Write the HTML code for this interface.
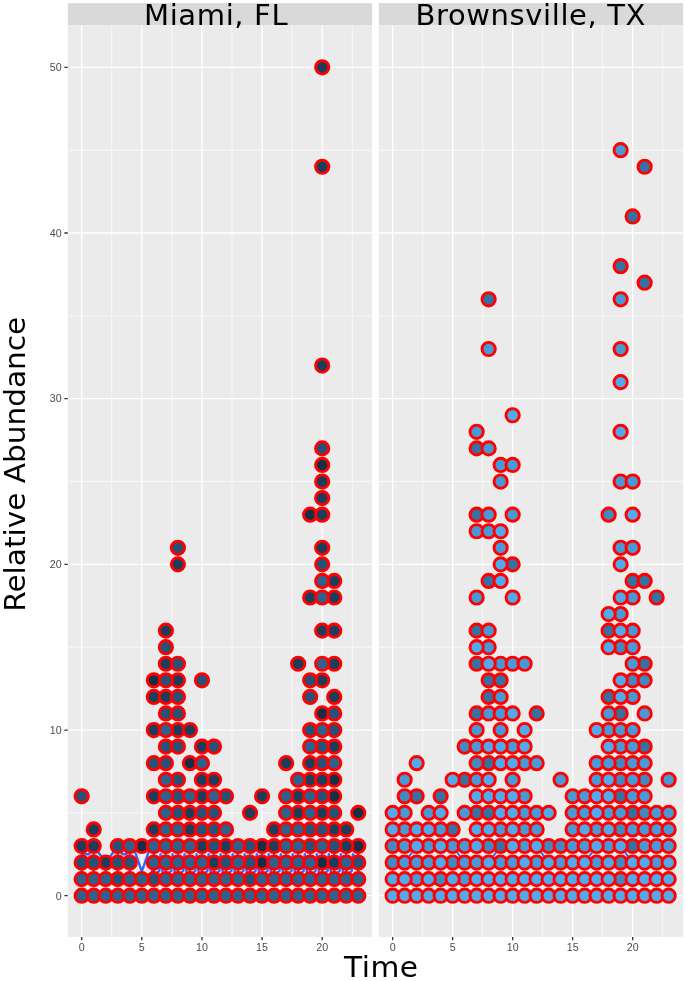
<!DOCTYPE html>
<html lang="en">
<head>
<meta charset="utf-8">
<title>Relative Abundance over Time</title>
<style>
html,body{margin:0;padding:0;background:#FFFFFF;}
body{width:685px;height:981px;overflow:hidden;}
svg{display:block;}
</style>
</head>
<body>
<svg width="685" height="981" viewBox="0 0 685 981">
<rect width="685" height="981" fill="#FFFFFF"/>
<rect x="67.8" y="3.1" width="304.30" height="22.30" fill="#D9D9D9"/>
<rect x="67.8" y="25.4" width="304.30" height="911.50" fill="#EBEBEB"/>
<path d="M67.8 812.87H372.1M67.8 647.20H372.1M67.8 481.53H372.1M67.8 315.86H372.1M67.8 150.19H372.1M111.76 25.4V936.9M171.89 25.4V936.9M232.01 25.4V936.9M292.14 25.4V936.9M352.26 25.4V936.9" stroke="#FFFFFF" stroke-width="0.65" fill="none"/>
<path d="M67.8 895.70H372.1M67.8 730.03H372.1M67.8 564.36H372.1M67.8 398.69H372.1M67.8 233.02H372.1M67.8 67.35H372.1M81.70 25.4V936.9M141.82 25.4V936.9M201.95 25.4V936.9M262.07 25.4V936.9M322.20 25.4V936.9" stroke="#FFFFFF" stroke-width="1.3" fill="none"/>
<path d="M81.7 854.3 L88.9 854.3 L93.7 846.0 L105.8 862.6 L117.8 846.0 L122.6 854.3 L126.2 854.3 L133.2 846.3 L141.8 871.7 L150.5 846.3 L153.9 852.6 L151.4 879.1 L159.3 870.8 L160.5 854.3 L163.5 879.1 L171.3 870.8 L172.5 854.3 L175.5 879.1 L183.3 870.8 L184.5 854.3 L187.5 879.1 L195.3 870.8 L196.5 854.3 L199.5 879.1 L207.4 870.8 L208.6 854.3 L211.6 879.1 L219.4 870.8 L220.6 854.3 L223.6 879.1 L231.4 870.8 L232.6 854.3 L235.6 879.1 L243.4 870.8 L244.6 854.3 L247.6 879.1 L255.5 870.8 L256.7 854.3 L259.7 879.1 L267.5 870.8 L268.7 854.3 L271.7 879.1 L279.5 870.8 L280.7 854.3 L283.7 879.1 L291.5 870.8 L292.7 854.3 L295.7 879.1 L303.6 870.8 L304.8 854.3 L307.8 879.1 L315.6 870.8 L316.8 854.3 L319.8 879.1 L327.6 870.8 L328.8 854.3 L331.8 879.1 L339.6 870.8 L340.8 854.3 L343.8 879.1 L351.7 870.8 L352.9 854.3 L358.3 862.6M81.7 879.1V847.7M93.7 879.1V847.7M105.8 879.1V862.6M117.8 879.1V847.7M129.8 879.1V847.7M153.9 879.1V847.7M165.9 879.1V847.7M177.9 879.1V847.7M189.9 879.1V847.7M201.9 879.1V847.7M214.0 879.1V847.7M226.0 879.1V847.7M238.0 879.1V847.7M250.1 879.1V847.7M262.1 879.1V847.7M274.1 879.1V847.7M286.1 879.1V847.7M298.2 879.1V847.7M310.2 879.1V847.7M322.2 879.1V847.7M334.2 879.1V847.7M346.2 879.1V847.7M358.3 879.1V847.7" stroke="#3366FF" stroke-width="2.4" fill="none" stroke-linejoin="round"/>
<g stroke="#FF0000" stroke-width="2.9">
<circle cx="262.07" cy="862.57" r="6.65" fill="#152F48"/>
<circle cx="322.20" cy="862.57" r="6.65" fill="#152F48"/>
<circle cx="141.82" cy="846.00" r="6.65" fill="#152F48"/>
<circle cx="262.07" cy="846.00" r="6.65" fill="#152F48"/>
<circle cx="358.27" cy="846.00" r="6.65" fill="#152F48"/>
<circle cx="358.27" cy="812.87" r="6.65" fill="#152F48"/>
<circle cx="334.23" cy="796.30" r="6.65" fill="#152F48"/>
<circle cx="334.23" cy="779.73" r="6.65" fill="#152F48"/>
<circle cx="189.93" cy="763.16" r="6.65" fill="#152F48"/>
<circle cx="322.20" cy="713.46" r="6.65" fill="#152F48"/>
<circle cx="153.85" cy="680.33" r="6.65" fill="#152F48"/>
<circle cx="310.18" cy="514.66" r="6.65" fill="#152F48"/>
<circle cx="322.20" cy="464.96" r="6.65" fill="#152F48"/>
<circle cx="105.75" cy="862.57" r="6.65" fill="#1C3E5C"/>
<circle cx="213.98" cy="862.57" r="6.65" fill="#1C3E5C"/>
<circle cx="334.23" cy="862.57" r="6.65" fill="#1C3E5C"/>
<circle cx="81.70" cy="846.00" r="6.65" fill="#1C3E5C"/>
<circle cx="93.73" cy="846.00" r="6.65" fill="#1C3E5C"/>
<circle cx="201.95" cy="846.00" r="6.65" fill="#1C3E5C"/>
<circle cx="226.00" cy="846.00" r="6.65" fill="#1C3E5C"/>
<circle cx="274.10" cy="846.00" r="6.65" fill="#1C3E5C"/>
<circle cx="346.25" cy="846.00" r="6.65" fill="#1C3E5C"/>
<circle cx="93.73" cy="829.43" r="6.65" fill="#1C3E5C"/>
<circle cx="153.85" cy="829.43" r="6.65" fill="#1C3E5C"/>
<circle cx="189.93" cy="829.43" r="6.65" fill="#1C3E5C"/>
<circle cx="274.10" cy="829.43" r="6.65" fill="#1C3E5C"/>
<circle cx="334.23" cy="829.43" r="6.65" fill="#1C3E5C"/>
<circle cx="346.25" cy="829.43" r="6.65" fill="#1C3E5C"/>
<circle cx="189.93" cy="812.87" r="6.65" fill="#1C3E5C"/>
<circle cx="250.05" cy="812.87" r="6.65" fill="#1C3E5C"/>
<circle cx="298.15" cy="812.87" r="6.65" fill="#1C3E5C"/>
<circle cx="322.20" cy="812.87" r="6.65" fill="#1C3E5C"/>
<circle cx="153.85" cy="796.30" r="6.65" fill="#1C3E5C"/>
<circle cx="201.95" cy="796.30" r="6.65" fill="#1C3E5C"/>
<circle cx="262.07" cy="796.30" r="6.65" fill="#1C3E5C"/>
<circle cx="298.15" cy="796.30" r="6.65" fill="#1C3E5C"/>
<circle cx="201.95" cy="779.73" r="6.65" fill="#1C3E5C"/>
<circle cx="213.98" cy="779.73" r="6.65" fill="#1C3E5C"/>
<circle cx="310.18" cy="779.73" r="6.65" fill="#1C3E5C"/>
<circle cx="322.20" cy="779.73" r="6.65" fill="#1C3E5C"/>
<circle cx="286.12" cy="763.16" r="6.65" fill="#1C3E5C"/>
<circle cx="310.18" cy="763.16" r="6.65" fill="#1C3E5C"/>
<circle cx="201.95" cy="746.60" r="6.65" fill="#1C3E5C"/>
<circle cx="334.23" cy="746.60" r="6.65" fill="#1C3E5C"/>
<circle cx="153.85" cy="730.03" r="6.65" fill="#1C3E5C"/>
<circle cx="177.90" cy="730.03" r="6.65" fill="#1C3E5C"/>
<circle cx="189.93" cy="730.03" r="6.65" fill="#1C3E5C"/>
<circle cx="153.85" cy="696.90" r="6.65" fill="#1C3E5C"/>
<circle cx="165.88" cy="696.90" r="6.65" fill="#1C3E5C"/>
<circle cx="334.23" cy="696.90" r="6.65" fill="#1C3E5C"/>
<circle cx="177.90" cy="680.33" r="6.65" fill="#1C3E5C"/>
<circle cx="322.20" cy="680.33" r="6.65" fill="#1C3E5C"/>
<circle cx="165.88" cy="663.76" r="6.65" fill="#1C3E5C"/>
<circle cx="298.15" cy="663.76" r="6.65" fill="#1C3E5C"/>
<circle cx="334.23" cy="663.76" r="6.65" fill="#1C3E5C"/>
<circle cx="165.88" cy="630.63" r="6.65" fill="#1C3E5C"/>
<circle cx="322.20" cy="630.63" r="6.65" fill="#1C3E5C"/>
<circle cx="334.23" cy="630.63" r="6.65" fill="#1C3E5C"/>
<circle cx="310.18" cy="597.49" r="6.65" fill="#1C3E5C"/>
<circle cx="334.23" cy="597.49" r="6.65" fill="#1C3E5C"/>
<circle cx="334.23" cy="580.93" r="6.65" fill="#1C3E5C"/>
<circle cx="177.90" cy="564.36" r="6.65" fill="#1C3E5C"/>
<circle cx="322.20" cy="547.79" r="6.65" fill="#1C3E5C"/>
<circle cx="322.20" cy="514.66" r="6.65" fill="#1C3E5C"/>
<circle cx="322.20" cy="498.09" r="6.65" fill="#1C3E5C"/>
<circle cx="322.20" cy="481.53" r="6.65" fill="#1C3E5C"/>
<circle cx="322.20" cy="365.56" r="6.65" fill="#1C3E5C"/>
<circle cx="322.20" cy="166.75" r="6.65" fill="#1C3E5C"/>
<circle cx="322.20" cy="67.35" r="6.65" fill="#1C3E5C"/>
<circle cx="117.78" cy="879.13" r="6.65" fill="#265277"/>
<circle cx="153.85" cy="879.13" r="6.65" fill="#265277"/>
<circle cx="250.05" cy="879.13" r="6.65" fill="#265277"/>
<circle cx="81.70" cy="862.57" r="6.65" fill="#265277"/>
<circle cx="93.73" cy="862.57" r="6.65" fill="#265277"/>
<circle cx="117.78" cy="862.57" r="6.65" fill="#265277"/>
<circle cx="129.80" cy="862.57" r="6.65" fill="#265277"/>
<circle cx="226.00" cy="862.57" r="6.65" fill="#265277"/>
<circle cx="250.05" cy="862.57" r="6.65" fill="#265277"/>
<circle cx="358.27" cy="862.57" r="6.65" fill="#265277"/>
<circle cx="117.78" cy="846.00" r="6.65" fill="#265277"/>
<circle cx="213.98" cy="846.00" r="6.65" fill="#265277"/>
<circle cx="250.05" cy="846.00" r="6.65" fill="#265277"/>
<circle cx="310.18" cy="846.00" r="6.65" fill="#265277"/>
<circle cx="334.23" cy="846.00" r="6.65" fill="#265277"/>
<circle cx="201.95" cy="829.43" r="6.65" fill="#265277"/>
<circle cx="213.98" cy="829.43" r="6.65" fill="#265277"/>
<circle cx="310.18" cy="829.43" r="6.65" fill="#265277"/>
<circle cx="322.20" cy="829.43" r="6.65" fill="#265277"/>
<circle cx="177.90" cy="812.87" r="6.65" fill="#265277"/>
<circle cx="201.95" cy="812.87" r="6.65" fill="#265277"/>
<circle cx="213.98" cy="812.87" r="6.65" fill="#265277"/>
<circle cx="334.23" cy="812.87" r="6.65" fill="#265277"/>
<circle cx="81.70" cy="796.30" r="6.65" fill="#265277"/>
<circle cx="177.90" cy="796.30" r="6.65" fill="#265277"/>
<circle cx="226.00" cy="796.30" r="6.65" fill="#265277"/>
<circle cx="322.20" cy="796.30" r="6.65" fill="#265277"/>
<circle cx="177.90" cy="779.73" r="6.65" fill="#265277"/>
<circle cx="153.85" cy="763.16" r="6.65" fill="#265277"/>
<circle cx="165.88" cy="763.16" r="6.65" fill="#265277"/>
<circle cx="322.20" cy="763.16" r="6.65" fill="#265277"/>
<circle cx="165.88" cy="746.60" r="6.65" fill="#265277"/>
<circle cx="177.90" cy="746.60" r="6.65" fill="#265277"/>
<circle cx="213.98" cy="746.60" r="6.65" fill="#265277"/>
<circle cx="322.20" cy="746.60" r="6.65" fill="#265277"/>
<circle cx="310.18" cy="730.03" r="6.65" fill="#265277"/>
<circle cx="334.23" cy="730.03" r="6.65" fill="#265277"/>
<circle cx="165.88" cy="713.46" r="6.65" fill="#265277"/>
<circle cx="177.90" cy="713.46" r="6.65" fill="#265277"/>
<circle cx="334.23" cy="713.46" r="6.65" fill="#265277"/>
<circle cx="177.90" cy="696.90" r="6.65" fill="#265277"/>
<circle cx="310.18" cy="696.90" r="6.65" fill="#265277"/>
<circle cx="165.88" cy="680.33" r="6.65" fill="#265277"/>
<circle cx="201.95" cy="680.33" r="6.65" fill="#265277"/>
<circle cx="310.18" cy="680.33" r="6.65" fill="#265277"/>
<circle cx="177.90" cy="663.76" r="6.65" fill="#265277"/>
<circle cx="165.88" cy="647.20" r="6.65" fill="#265277"/>
<circle cx="322.20" cy="564.36" r="6.65" fill="#265277"/>
<circle cx="177.90" cy="547.79" r="6.65" fill="#265277"/>
<circle cx="322.20" cy="448.39" r="6.65" fill="#265277"/>
<circle cx="81.70" cy="895.70" r="6.65" fill="#2E628D"/>
<circle cx="93.73" cy="895.70" r="6.65" fill="#2E628D"/>
<circle cx="105.75" cy="895.70" r="6.65" fill="#2E628D"/>
<circle cx="117.78" cy="895.70" r="6.65" fill="#2E628D"/>
<circle cx="129.80" cy="895.70" r="6.65" fill="#2E628D"/>
<circle cx="141.82" cy="895.70" r="6.65" fill="#2E628D"/>
<circle cx="153.85" cy="895.70" r="6.65" fill="#2E628D"/>
<circle cx="165.88" cy="895.70" r="6.65" fill="#2E628D"/>
<circle cx="177.90" cy="895.70" r="6.65" fill="#2E628D"/>
<circle cx="189.93" cy="895.70" r="6.65" fill="#2E628D"/>
<circle cx="201.95" cy="895.70" r="6.65" fill="#2E628D"/>
<circle cx="213.98" cy="895.70" r="6.65" fill="#2E628D"/>
<circle cx="226.00" cy="895.70" r="6.65" fill="#2E628D"/>
<circle cx="238.03" cy="895.70" r="6.65" fill="#2E628D"/>
<circle cx="250.05" cy="895.70" r="6.65" fill="#2E628D"/>
<circle cx="262.07" cy="895.70" r="6.65" fill="#2E628D"/>
<circle cx="274.10" cy="895.70" r="6.65" fill="#2E628D"/>
<circle cx="286.12" cy="895.70" r="6.65" fill="#2E628D"/>
<circle cx="298.15" cy="895.70" r="6.65" fill="#2E628D"/>
<circle cx="310.18" cy="895.70" r="6.65" fill="#2E628D"/>
<circle cx="322.20" cy="895.70" r="6.65" fill="#2E628D"/>
<circle cx="334.23" cy="895.70" r="6.65" fill="#2E628D"/>
<circle cx="346.25" cy="895.70" r="6.65" fill="#2E628D"/>
<circle cx="358.27" cy="895.70" r="6.65" fill="#2E628D"/>
<circle cx="81.70" cy="879.13" r="6.65" fill="#2E628D"/>
<circle cx="93.73" cy="879.13" r="6.65" fill="#2E628D"/>
<circle cx="105.75" cy="879.13" r="6.65" fill="#2E628D"/>
<circle cx="129.80" cy="879.13" r="6.65" fill="#2E628D"/>
<circle cx="141.82" cy="879.13" r="6.65" fill="#2E628D"/>
<circle cx="165.88" cy="879.13" r="6.65" fill="#2E628D"/>
<circle cx="177.90" cy="879.13" r="6.65" fill="#2E628D"/>
<circle cx="189.93" cy="879.13" r="6.65" fill="#2E628D"/>
<circle cx="201.95" cy="879.13" r="6.65" fill="#2E628D"/>
<circle cx="213.98" cy="879.13" r="6.65" fill="#2E628D"/>
<circle cx="226.00" cy="879.13" r="6.65" fill="#2E628D"/>
<circle cx="238.03" cy="879.13" r="6.65" fill="#2E628D"/>
<circle cx="262.07" cy="879.13" r="6.65" fill="#2E628D"/>
<circle cx="274.10" cy="879.13" r="6.65" fill="#2E628D"/>
<circle cx="286.12" cy="879.13" r="6.65" fill="#2E628D"/>
<circle cx="298.15" cy="879.13" r="6.65" fill="#2E628D"/>
<circle cx="310.18" cy="879.13" r="6.65" fill="#2E628D"/>
<circle cx="322.20" cy="879.13" r="6.65" fill="#2E628D"/>
<circle cx="334.23" cy="879.13" r="6.65" fill="#2E628D"/>
<circle cx="346.25" cy="879.13" r="6.65" fill="#2E628D"/>
<circle cx="358.27" cy="879.13" r="6.65" fill="#2E628D"/>
<circle cx="153.85" cy="862.57" r="6.65" fill="#2E628D"/>
<circle cx="165.88" cy="862.57" r="6.65" fill="#2E628D"/>
<circle cx="177.90" cy="862.57" r="6.65" fill="#2E628D"/>
<circle cx="189.93" cy="862.57" r="6.65" fill="#2E628D"/>
<circle cx="201.95" cy="862.57" r="6.65" fill="#2E628D"/>
<circle cx="238.03" cy="862.57" r="6.65" fill="#2E628D"/>
<circle cx="274.10" cy="862.57" r="6.65" fill="#2E628D"/>
<circle cx="286.12" cy="862.57" r="6.65" fill="#2E628D"/>
<circle cx="298.15" cy="862.57" r="6.65" fill="#2E628D"/>
<circle cx="310.18" cy="862.57" r="6.65" fill="#2E628D"/>
<circle cx="346.25" cy="862.57" r="6.65" fill="#2E628D"/>
<circle cx="129.80" cy="846.00" r="6.65" fill="#2E628D"/>
<circle cx="153.85" cy="846.00" r="6.65" fill="#2E628D"/>
<circle cx="165.88" cy="846.00" r="6.65" fill="#2E628D"/>
<circle cx="177.90" cy="846.00" r="6.65" fill="#2E628D"/>
<circle cx="189.93" cy="846.00" r="6.65" fill="#2E628D"/>
<circle cx="238.03" cy="846.00" r="6.65" fill="#2E628D"/>
<circle cx="286.12" cy="846.00" r="6.65" fill="#2E628D"/>
<circle cx="298.15" cy="846.00" r="6.65" fill="#2E628D"/>
<circle cx="322.20" cy="846.00" r="6.65" fill="#2E628D"/>
<circle cx="165.88" cy="829.43" r="6.65" fill="#2E628D"/>
<circle cx="177.90" cy="829.43" r="6.65" fill="#2E628D"/>
<circle cx="226.00" cy="829.43" r="6.65" fill="#2E628D"/>
<circle cx="286.12" cy="829.43" r="6.65" fill="#2E628D"/>
<circle cx="298.15" cy="829.43" r="6.65" fill="#2E628D"/>
<circle cx="165.88" cy="812.87" r="6.65" fill="#2E628D"/>
<circle cx="286.12" cy="812.87" r="6.65" fill="#2E628D"/>
<circle cx="310.18" cy="812.87" r="6.65" fill="#2E628D"/>
<circle cx="165.88" cy="796.30" r="6.65" fill="#2E628D"/>
<circle cx="189.93" cy="796.30" r="6.65" fill="#2E628D"/>
<circle cx="213.98" cy="796.30" r="6.65" fill="#2E628D"/>
<circle cx="286.12" cy="796.30" r="6.65" fill="#2E628D"/>
<circle cx="310.18" cy="796.30" r="6.65" fill="#2E628D"/>
<circle cx="165.88" cy="779.73" r="6.65" fill="#2E628D"/>
<circle cx="298.15" cy="779.73" r="6.65" fill="#2E628D"/>
<circle cx="201.95" cy="763.16" r="6.65" fill="#2E628D"/>
<circle cx="334.23" cy="763.16" r="6.65" fill="#2E628D"/>
<circle cx="310.18" cy="746.60" r="6.65" fill="#2E628D"/>
<circle cx="165.88" cy="730.03" r="6.65" fill="#2E628D"/>
<circle cx="322.20" cy="730.03" r="6.65" fill="#2E628D"/>
<circle cx="322.20" cy="663.76" r="6.65" fill="#2E628D"/>
<circle cx="322.20" cy="597.49" r="6.65" fill="#2E628D"/>
<circle cx="322.20" cy="580.93" r="6.65" fill="#2E628D"/>
</g>
<path d="M81.70 936.9v3.4M141.82 936.9v3.4M201.95 936.9v3.4M262.07 936.9v3.4M322.20 936.9v3.4" stroke="#333333" stroke-width="1.3" fill="none"/>
<g font-family="'Liberation Sans', Arial, sans-serif" font-size="10.7" fill="#4D4D4D" text-anchor="middle">
<text x="81.70" y="951.2">0</text>
<text x="141.82" y="951.2">5</text>
<text x="201.95" y="951.2">10</text>
<text x="262.07" y="951.2">15</text>
<text x="322.20" y="951.2">20</text>
</g>
<text x="143.95" y="24.8" font-family="'DejaVu Sans', Verdana, sans-serif" font-size="28" letter-spacing="0.6" textLength="144.3" lengthAdjust="spacingAndGlyphs" fill="#000000">Miami, FL</text>
<rect x="378.8" y="3.1" width="304.30" height="22.30" fill="#D9D9D9"/>
<rect x="378.8" y="25.4" width="304.30" height="911.50" fill="#EBEBEB"/>
<path d="M378.8 812.87H683.1M378.8 647.20H683.1M378.8 481.53H683.1M378.8 315.86H683.1M378.8 150.19H683.1M422.65 25.4V936.9M482.65 25.4V936.9M542.65 25.4V936.9M602.65 25.4V936.9M662.65 25.4V936.9" stroke="#FFFFFF" stroke-width="0.65" fill="none"/>
<path d="M378.8 895.70H683.1M378.8 730.03H683.1M378.8 564.36H683.1M378.8 398.69H683.1M378.8 233.02H683.1M378.8 67.35H683.1M392.65 25.4V936.9M452.65 25.4V936.9M512.65 25.4V936.9M572.65 25.4V936.9M632.65 25.4V936.9" stroke="#FFFFFF" stroke-width="1.3" fill="none"/>
<path d="M392.6 862.6 L404.6 862.6 L416.6 846.0 L428.6 846.0 L440.6 846.0 L452.6 846.0 L464.6 862.6 L476.6 862.6 L488.6 862.6 L500.6 846.0 L512.6 846.0 L524.6 846.0 L536.6 846.0 L548.6 862.6 L560.6 862.6 L572.6 862.6 L584.6 862.6 L596.6 846.0 L608.6 846.0 L620.6 846.0 L632.6 862.6 L644.6 862.6 L656.6 862.6 L668.6 862.6" stroke="#3366FF" stroke-width="2" fill="none" stroke-linejoin="round"/>
<g stroke="#FF0000" stroke-width="2.9">
<circle cx="500.65" cy="846.00" r="6.65" fill="#3671A1"/>
<circle cx="632.65" cy="846.00" r="6.65" fill="#3671A1"/>
<circle cx="452.65" cy="829.43" r="6.65" fill="#3671A1"/>
<circle cx="476.65" cy="812.87" r="6.65" fill="#3671A1"/>
<circle cx="488.65" cy="812.87" r="6.65" fill="#3671A1"/>
<circle cx="632.65" cy="812.87" r="6.65" fill="#3671A1"/>
<circle cx="416.65" cy="796.30" r="6.65" fill="#3671A1"/>
<circle cx="440.65" cy="796.30" r="6.65" fill="#3671A1"/>
<circle cx="620.65" cy="796.30" r="6.65" fill="#3671A1"/>
<circle cx="464.65" cy="779.73" r="6.65" fill="#3671A1"/>
<circle cx="488.65" cy="763.16" r="6.65" fill="#3671A1"/>
<circle cx="644.65" cy="746.60" r="6.65" fill="#3671A1"/>
<circle cx="476.65" cy="713.46" r="6.65" fill="#3671A1"/>
<circle cx="536.65" cy="713.46" r="6.65" fill="#3671A1"/>
<circle cx="620.65" cy="713.46" r="6.65" fill="#3671A1"/>
<circle cx="488.65" cy="696.90" r="6.65" fill="#3671A1"/>
<circle cx="608.65" cy="696.90" r="6.65" fill="#3671A1"/>
<circle cx="488.65" cy="680.33" r="6.65" fill="#3671A1"/>
<circle cx="500.65" cy="680.33" r="6.65" fill="#3671A1"/>
<circle cx="476.65" cy="663.76" r="6.65" fill="#3671A1"/>
<circle cx="644.65" cy="663.76" r="6.65" fill="#3671A1"/>
<circle cx="476.65" cy="630.63" r="6.65" fill="#3671A1"/>
<circle cx="608.65" cy="630.63" r="6.65" fill="#3671A1"/>
<circle cx="656.65" cy="597.49" r="6.65" fill="#3671A1"/>
<circle cx="488.65" cy="580.93" r="6.65" fill="#3671A1"/>
<circle cx="632.65" cy="580.93" r="6.65" fill="#3671A1"/>
<circle cx="644.65" cy="580.93" r="6.65" fill="#3671A1"/>
<circle cx="512.65" cy="564.36" r="6.65" fill="#3671A1"/>
<circle cx="476.65" cy="514.66" r="6.65" fill="#3671A1"/>
<circle cx="476.65" cy="448.39" r="6.65" fill="#3671A1"/>
<circle cx="488.65" cy="299.29" r="6.65" fill="#3671A1"/>
<circle cx="644.65" cy="282.72" r="6.65" fill="#3671A1"/>
<circle cx="620.65" cy="266.15" r="6.65" fill="#3671A1"/>
<circle cx="632.65" cy="216.45" r="6.65" fill="#3671A1"/>
<circle cx="644.65" cy="166.75" r="6.65" fill="#3671A1"/>
<circle cx="440.65" cy="879.13" r="6.65" fill="#4289C1"/>
<circle cx="620.65" cy="879.13" r="6.65" fill="#4289C1"/>
<circle cx="392.65" cy="862.57" r="6.65" fill="#4289C1"/>
<circle cx="452.65" cy="862.57" r="6.65" fill="#4289C1"/>
<circle cx="620.65" cy="862.57" r="6.65" fill="#4289C1"/>
<circle cx="392.65" cy="846.00" r="6.65" fill="#4289C1"/>
<circle cx="488.65" cy="846.00" r="6.65" fill="#4289C1"/>
<circle cx="548.65" cy="846.00" r="6.65" fill="#4289C1"/>
<circle cx="560.65" cy="846.00" r="6.65" fill="#4289C1"/>
<circle cx="620.65" cy="829.43" r="6.65" fill="#4289C1"/>
<circle cx="644.65" cy="812.87" r="6.65" fill="#4289C1"/>
<circle cx="404.65" cy="796.30" r="6.65" fill="#4289C1"/>
<circle cx="620.65" cy="779.73" r="6.65" fill="#4289C1"/>
<circle cx="644.65" cy="779.73" r="6.65" fill="#4289C1"/>
<circle cx="476.65" cy="763.16" r="6.65" fill="#4289C1"/>
<circle cx="620.65" cy="763.16" r="6.65" fill="#4289C1"/>
<circle cx="464.65" cy="746.60" r="6.65" fill="#4289C1"/>
<circle cx="632.65" cy="680.33" r="6.65" fill="#4289C1"/>
<circle cx="644.65" cy="680.33" r="6.65" fill="#4289C1"/>
<circle cx="620.65" cy="647.20" r="6.65" fill="#4289C1"/>
<circle cx="608.65" cy="514.66" r="6.65" fill="#4289C1"/>
<circle cx="416.65" cy="879.13" r="6.65" fill="#4A99D7"/>
<circle cx="464.65" cy="879.13" r="6.65" fill="#4A99D7"/>
<circle cx="404.65" cy="862.57" r="6.65" fill="#4A99D7"/>
<circle cx="416.65" cy="862.57" r="6.65" fill="#4A99D7"/>
<circle cx="428.65" cy="862.57" r="6.65" fill="#4A99D7"/>
<circle cx="464.65" cy="862.57" r="6.65" fill="#4A99D7"/>
<circle cx="476.65" cy="862.57" r="6.65" fill="#4A99D7"/>
<circle cx="500.65" cy="862.57" r="6.65" fill="#4A99D7"/>
<circle cx="512.65" cy="862.57" r="6.65" fill="#4A99D7"/>
<circle cx="536.65" cy="862.57" r="6.65" fill="#4A99D7"/>
<circle cx="560.65" cy="862.57" r="6.65" fill="#4A99D7"/>
<circle cx="596.65" cy="862.57" r="6.65" fill="#4A99D7"/>
<circle cx="656.65" cy="862.57" r="6.65" fill="#4A99D7"/>
<circle cx="404.65" cy="846.00" r="6.65" fill="#4A99D7"/>
<circle cx="428.65" cy="846.00" r="6.65" fill="#4A99D7"/>
<circle cx="452.65" cy="846.00" r="6.65" fill="#4A99D7"/>
<circle cx="464.65" cy="846.00" r="6.65" fill="#4A99D7"/>
<circle cx="524.65" cy="846.00" r="6.65" fill="#4A99D7"/>
<circle cx="572.65" cy="846.00" r="6.65" fill="#4A99D7"/>
<circle cx="584.65" cy="846.00" r="6.65" fill="#4A99D7"/>
<circle cx="608.65" cy="846.00" r="6.65" fill="#4A99D7"/>
<circle cx="644.65" cy="846.00" r="6.65" fill="#4A99D7"/>
<circle cx="656.65" cy="846.00" r="6.65" fill="#4A99D7"/>
<circle cx="668.65" cy="846.00" r="6.65" fill="#4A99D7"/>
<circle cx="404.65" cy="829.43" r="6.65" fill="#4A99D7"/>
<circle cx="440.65" cy="829.43" r="6.65" fill="#4A99D7"/>
<circle cx="500.65" cy="829.43" r="6.65" fill="#4A99D7"/>
<circle cx="524.65" cy="829.43" r="6.65" fill="#4A99D7"/>
<circle cx="536.65" cy="829.43" r="6.65" fill="#4A99D7"/>
<circle cx="572.65" cy="829.43" r="6.65" fill="#4A99D7"/>
<circle cx="596.65" cy="829.43" r="6.65" fill="#4A99D7"/>
<circle cx="632.65" cy="829.43" r="6.65" fill="#4A99D7"/>
<circle cx="644.65" cy="829.43" r="6.65" fill="#4A99D7"/>
<circle cx="656.65" cy="829.43" r="6.65" fill="#4A99D7"/>
<circle cx="668.65" cy="829.43" r="6.65" fill="#4A99D7"/>
<circle cx="404.65" cy="812.87" r="6.65" fill="#4A99D7"/>
<circle cx="428.65" cy="812.87" r="6.65" fill="#4A99D7"/>
<circle cx="464.65" cy="812.87" r="6.65" fill="#4A99D7"/>
<circle cx="524.65" cy="812.87" r="6.65" fill="#4A99D7"/>
<circle cx="536.65" cy="812.87" r="6.65" fill="#4A99D7"/>
<circle cx="572.65" cy="812.87" r="6.65" fill="#4A99D7"/>
<circle cx="584.65" cy="812.87" r="6.65" fill="#4A99D7"/>
<circle cx="608.65" cy="812.87" r="6.65" fill="#4A99D7"/>
<circle cx="620.65" cy="812.87" r="6.65" fill="#4A99D7"/>
<circle cx="656.65" cy="812.87" r="6.65" fill="#4A99D7"/>
<circle cx="668.65" cy="812.87" r="6.65" fill="#4A99D7"/>
<circle cx="524.65" cy="796.30" r="6.65" fill="#4A99D7"/>
<circle cx="572.65" cy="796.30" r="6.65" fill="#4A99D7"/>
<circle cx="584.65" cy="796.30" r="6.65" fill="#4A99D7"/>
<circle cx="632.65" cy="796.30" r="6.65" fill="#4A99D7"/>
<circle cx="644.65" cy="796.30" r="6.65" fill="#4A99D7"/>
<circle cx="404.65" cy="779.73" r="6.65" fill="#4A99D7"/>
<circle cx="476.65" cy="779.73" r="6.65" fill="#4A99D7"/>
<circle cx="512.65" cy="779.73" r="6.65" fill="#4A99D7"/>
<circle cx="560.65" cy="779.73" r="6.65" fill="#4A99D7"/>
<circle cx="596.65" cy="779.73" r="6.65" fill="#4A99D7"/>
<circle cx="632.65" cy="779.73" r="6.65" fill="#4A99D7"/>
<circle cx="668.65" cy="779.73" r="6.65" fill="#4A99D7"/>
<circle cx="524.65" cy="763.16" r="6.65" fill="#4A99D7"/>
<circle cx="536.65" cy="763.16" r="6.65" fill="#4A99D7"/>
<circle cx="596.65" cy="763.16" r="6.65" fill="#4A99D7"/>
<circle cx="608.65" cy="763.16" r="6.65" fill="#4A99D7"/>
<circle cx="632.65" cy="763.16" r="6.65" fill="#4A99D7"/>
<circle cx="644.65" cy="763.16" r="6.65" fill="#4A99D7"/>
<circle cx="476.65" cy="746.60" r="6.65" fill="#4A99D7"/>
<circle cx="512.65" cy="746.60" r="6.65" fill="#4A99D7"/>
<circle cx="620.65" cy="746.60" r="6.65" fill="#4A99D7"/>
<circle cx="632.65" cy="746.60" r="6.65" fill="#4A99D7"/>
<circle cx="476.65" cy="730.03" r="6.65" fill="#4A99D7"/>
<circle cx="500.65" cy="730.03" r="6.65" fill="#4A99D7"/>
<circle cx="608.65" cy="730.03" r="6.65" fill="#4A99D7"/>
<circle cx="620.65" cy="730.03" r="6.65" fill="#4A99D7"/>
<circle cx="632.65" cy="730.03" r="6.65" fill="#4A99D7"/>
<circle cx="488.65" cy="713.46" r="6.65" fill="#4A99D7"/>
<circle cx="500.65" cy="713.46" r="6.65" fill="#4A99D7"/>
<circle cx="608.65" cy="713.46" r="6.65" fill="#4A99D7"/>
<circle cx="644.65" cy="713.46" r="6.65" fill="#4A99D7"/>
<circle cx="500.65" cy="696.90" r="6.65" fill="#4A99D7"/>
<circle cx="632.65" cy="696.90" r="6.65" fill="#4A99D7"/>
<circle cx="500.65" cy="663.76" r="6.65" fill="#4A99D7"/>
<circle cx="512.65" cy="663.76" r="6.65" fill="#4A99D7"/>
<circle cx="524.65" cy="663.76" r="6.65" fill="#4A99D7"/>
<circle cx="632.65" cy="663.76" r="6.65" fill="#4A99D7"/>
<circle cx="488.65" cy="647.20" r="6.65" fill="#4A99D7"/>
<circle cx="632.65" cy="647.20" r="6.65" fill="#4A99D7"/>
<circle cx="488.65" cy="630.63" r="6.65" fill="#4A99D7"/>
<circle cx="632.65" cy="630.63" r="6.65" fill="#4A99D7"/>
<circle cx="620.65" cy="614.06" r="6.65" fill="#4A99D7"/>
<circle cx="476.65" cy="597.49" r="6.65" fill="#4A99D7"/>
<circle cx="632.65" cy="597.49" r="6.65" fill="#4A99D7"/>
<circle cx="500.65" cy="547.79" r="6.65" fill="#4A99D7"/>
<circle cx="620.65" cy="547.79" r="6.65" fill="#4A99D7"/>
<circle cx="632.65" cy="547.79" r="6.65" fill="#4A99D7"/>
<circle cx="476.65" cy="531.23" r="6.65" fill="#4A99D7"/>
<circle cx="488.65" cy="531.23" r="6.65" fill="#4A99D7"/>
<circle cx="488.65" cy="514.66" r="6.65" fill="#4A99D7"/>
<circle cx="512.65" cy="514.66" r="6.65" fill="#4A99D7"/>
<circle cx="500.65" cy="481.53" r="6.65" fill="#4A99D7"/>
<circle cx="620.65" cy="481.53" r="6.65" fill="#4A99D7"/>
<circle cx="632.65" cy="481.53" r="6.65" fill="#4A99D7"/>
<circle cx="500.65" cy="464.96" r="6.65" fill="#4A99D7"/>
<circle cx="512.65" cy="464.96" r="6.65" fill="#4A99D7"/>
<circle cx="488.65" cy="448.39" r="6.65" fill="#4A99D7"/>
<circle cx="476.65" cy="431.82" r="6.65" fill="#4A99D7"/>
<circle cx="488.65" cy="348.99" r="6.65" fill="#4A99D7"/>
<circle cx="620.65" cy="348.99" r="6.65" fill="#4A99D7"/>
<circle cx="620.65" cy="299.29" r="6.65" fill="#4A99D7"/>
<circle cx="620.65" cy="150.19" r="6.65" fill="#4A99D7"/>
<circle cx="392.65" cy="895.70" r="6.65" fill="#52A9EC"/>
<circle cx="404.65" cy="895.70" r="6.65" fill="#52A9EC"/>
<circle cx="416.65" cy="895.70" r="6.65" fill="#52A9EC"/>
<circle cx="428.65" cy="895.70" r="6.65" fill="#52A9EC"/>
<circle cx="440.65" cy="895.70" r="6.65" fill="#52A9EC"/>
<circle cx="452.65" cy="895.70" r="6.65" fill="#52A9EC"/>
<circle cx="464.65" cy="895.70" r="6.65" fill="#52A9EC"/>
<circle cx="476.65" cy="895.70" r="6.65" fill="#52A9EC"/>
<circle cx="488.65" cy="895.70" r="6.65" fill="#52A9EC"/>
<circle cx="500.65" cy="895.70" r="6.65" fill="#52A9EC"/>
<circle cx="512.65" cy="895.70" r="6.65" fill="#52A9EC"/>
<circle cx="524.65" cy="895.70" r="6.65" fill="#52A9EC"/>
<circle cx="536.65" cy="895.70" r="6.65" fill="#52A9EC"/>
<circle cx="548.65" cy="895.70" r="6.65" fill="#52A9EC"/>
<circle cx="560.65" cy="895.70" r="6.65" fill="#52A9EC"/>
<circle cx="572.65" cy="895.70" r="6.65" fill="#52A9EC"/>
<circle cx="584.65" cy="895.70" r="6.65" fill="#52A9EC"/>
<circle cx="596.65" cy="895.70" r="6.65" fill="#52A9EC"/>
<circle cx="608.65" cy="895.70" r="6.65" fill="#52A9EC"/>
<circle cx="620.65" cy="895.70" r="6.65" fill="#52A9EC"/>
<circle cx="632.65" cy="895.70" r="6.65" fill="#52A9EC"/>
<circle cx="644.65" cy="895.70" r="6.65" fill="#52A9EC"/>
<circle cx="656.65" cy="895.70" r="6.65" fill="#52A9EC"/>
<circle cx="668.65" cy="895.70" r="6.65" fill="#52A9EC"/>
<circle cx="392.65" cy="879.13" r="6.65" fill="#52A9EC"/>
<circle cx="404.65" cy="879.13" r="6.65" fill="#52A9EC"/>
<circle cx="428.65" cy="879.13" r="6.65" fill="#52A9EC"/>
<circle cx="452.65" cy="879.13" r="6.65" fill="#52A9EC"/>
<circle cx="476.65" cy="879.13" r="6.65" fill="#52A9EC"/>
<circle cx="488.65" cy="879.13" r="6.65" fill="#52A9EC"/>
<circle cx="500.65" cy="879.13" r="6.65" fill="#52A9EC"/>
<circle cx="512.65" cy="879.13" r="6.65" fill="#52A9EC"/>
<circle cx="524.65" cy="879.13" r="6.65" fill="#52A9EC"/>
<circle cx="536.65" cy="879.13" r="6.65" fill="#52A9EC"/>
<circle cx="548.65" cy="879.13" r="6.65" fill="#52A9EC"/>
<circle cx="560.65" cy="879.13" r="6.65" fill="#52A9EC"/>
<circle cx="572.65" cy="879.13" r="6.65" fill="#52A9EC"/>
<circle cx="584.65" cy="879.13" r="6.65" fill="#52A9EC"/>
<circle cx="596.65" cy="879.13" r="6.65" fill="#52A9EC"/>
<circle cx="608.65" cy="879.13" r="6.65" fill="#52A9EC"/>
<circle cx="632.65" cy="879.13" r="6.65" fill="#52A9EC"/>
<circle cx="644.65" cy="879.13" r="6.65" fill="#52A9EC"/>
<circle cx="656.65" cy="879.13" r="6.65" fill="#52A9EC"/>
<circle cx="668.65" cy="879.13" r="6.65" fill="#52A9EC"/>
<circle cx="440.65" cy="862.57" r="6.65" fill="#52A9EC"/>
<circle cx="488.65" cy="862.57" r="6.65" fill="#52A9EC"/>
<circle cx="524.65" cy="862.57" r="6.65" fill="#52A9EC"/>
<circle cx="548.65" cy="862.57" r="6.65" fill="#52A9EC"/>
<circle cx="572.65" cy="862.57" r="6.65" fill="#52A9EC"/>
<circle cx="584.65" cy="862.57" r="6.65" fill="#52A9EC"/>
<circle cx="608.65" cy="862.57" r="6.65" fill="#52A9EC"/>
<circle cx="632.65" cy="862.57" r="6.65" fill="#52A9EC"/>
<circle cx="644.65" cy="862.57" r="6.65" fill="#52A9EC"/>
<circle cx="668.65" cy="862.57" r="6.65" fill="#52A9EC"/>
<circle cx="416.65" cy="846.00" r="6.65" fill="#52A9EC"/>
<circle cx="440.65" cy="846.00" r="6.65" fill="#52A9EC"/>
<circle cx="476.65" cy="846.00" r="6.65" fill="#52A9EC"/>
<circle cx="512.65" cy="846.00" r="6.65" fill="#52A9EC"/>
<circle cx="536.65" cy="846.00" r="6.65" fill="#52A9EC"/>
<circle cx="596.65" cy="846.00" r="6.65" fill="#52A9EC"/>
<circle cx="620.65" cy="846.00" r="6.65" fill="#52A9EC"/>
<circle cx="392.65" cy="829.43" r="6.65" fill="#52A9EC"/>
<circle cx="416.65" cy="829.43" r="6.65" fill="#52A9EC"/>
<circle cx="428.65" cy="829.43" r="6.65" fill="#52A9EC"/>
<circle cx="476.65" cy="829.43" r="6.65" fill="#52A9EC"/>
<circle cx="488.65" cy="829.43" r="6.65" fill="#52A9EC"/>
<circle cx="512.65" cy="829.43" r="6.65" fill="#52A9EC"/>
<circle cx="584.65" cy="829.43" r="6.65" fill="#52A9EC"/>
<circle cx="608.65" cy="829.43" r="6.65" fill="#52A9EC"/>
<circle cx="392.65" cy="812.87" r="6.65" fill="#52A9EC"/>
<circle cx="440.65" cy="812.87" r="6.65" fill="#52A9EC"/>
<circle cx="500.65" cy="812.87" r="6.65" fill="#52A9EC"/>
<circle cx="512.65" cy="812.87" r="6.65" fill="#52A9EC"/>
<circle cx="548.65" cy="812.87" r="6.65" fill="#52A9EC"/>
<circle cx="596.65" cy="812.87" r="6.65" fill="#52A9EC"/>
<circle cx="476.65" cy="796.30" r="6.65" fill="#52A9EC"/>
<circle cx="488.65" cy="796.30" r="6.65" fill="#52A9EC"/>
<circle cx="500.65" cy="796.30" r="6.65" fill="#52A9EC"/>
<circle cx="512.65" cy="796.30" r="6.65" fill="#52A9EC"/>
<circle cx="596.65" cy="796.30" r="6.65" fill="#52A9EC"/>
<circle cx="608.65" cy="796.30" r="6.65" fill="#52A9EC"/>
<circle cx="452.65" cy="779.73" r="6.65" fill="#52A9EC"/>
<circle cx="488.65" cy="779.73" r="6.65" fill="#52A9EC"/>
<circle cx="608.65" cy="779.73" r="6.65" fill="#52A9EC"/>
<circle cx="416.65" cy="763.16" r="6.65" fill="#52A9EC"/>
<circle cx="500.65" cy="763.16" r="6.65" fill="#52A9EC"/>
<circle cx="512.65" cy="763.16" r="6.65" fill="#52A9EC"/>
<circle cx="488.65" cy="746.60" r="6.65" fill="#52A9EC"/>
<circle cx="500.65" cy="746.60" r="6.65" fill="#52A9EC"/>
<circle cx="524.65" cy="746.60" r="6.65" fill="#52A9EC"/>
<circle cx="608.65" cy="746.60" r="6.65" fill="#52A9EC"/>
<circle cx="524.65" cy="730.03" r="6.65" fill="#52A9EC"/>
<circle cx="596.65" cy="730.03" r="6.65" fill="#52A9EC"/>
<circle cx="512.65" cy="713.46" r="6.65" fill="#52A9EC"/>
<circle cx="620.65" cy="696.90" r="6.65" fill="#52A9EC"/>
<circle cx="620.65" cy="680.33" r="6.65" fill="#52A9EC"/>
<circle cx="488.65" cy="663.76" r="6.65" fill="#52A9EC"/>
<circle cx="476.65" cy="647.20" r="6.65" fill="#52A9EC"/>
<circle cx="608.65" cy="647.20" r="6.65" fill="#52A9EC"/>
<circle cx="620.65" cy="630.63" r="6.65" fill="#52A9EC"/>
<circle cx="608.65" cy="614.06" r="6.65" fill="#52A9EC"/>
<circle cx="512.65" cy="597.49" r="6.65" fill="#52A9EC"/>
<circle cx="620.65" cy="597.49" r="6.65" fill="#52A9EC"/>
<circle cx="500.65" cy="580.93" r="6.65" fill="#52A9EC"/>
<circle cx="500.65" cy="564.36" r="6.65" fill="#52A9EC"/>
<circle cx="620.65" cy="564.36" r="6.65" fill="#52A9EC"/>
<circle cx="500.65" cy="531.23" r="6.65" fill="#52A9EC"/>
<circle cx="632.65" cy="514.66" r="6.65" fill="#52A9EC"/>
<circle cx="620.65" cy="431.82" r="6.65" fill="#52A9EC"/>
<circle cx="512.65" cy="415.26" r="6.65" fill="#52A9EC"/>
<circle cx="620.65" cy="382.12" r="6.65" fill="#52A9EC"/>
</g>
<path d="M392.65 936.9v3.4M452.65 936.9v3.4M512.65 936.9v3.4M572.65 936.9v3.4M632.65 936.9v3.4" stroke="#333333" stroke-width="1.3" fill="none"/>
<g font-family="'Liberation Sans', Arial, sans-serif" font-size="10.7" fill="#4D4D4D" text-anchor="middle">
<text x="392.65" y="951.2">0</text>
<text x="452.65" y="951.2">5</text>
<text x="512.65" y="951.2">10</text>
<text x="572.65" y="951.2">15</text>
<text x="632.65" y="951.2">20</text>
</g>
<text x="415.55" y="24.8" font-family="'DejaVu Sans', Verdana, sans-serif" font-size="28" letter-spacing="0.6" textLength="230.47" lengthAdjust="spacingAndGlyphs" fill="#000000">Brownsville, TX</text>
<path d="M67.8 895.70h-3.4M67.8 730.03h-3.4M67.8 564.36h-3.4M67.8 398.69h-3.4M67.8 233.02h-3.4M67.8 67.35h-3.4" stroke="#333333" stroke-width="1.3" fill="none"/>
<g font-family="'Liberation Sans', Arial, sans-serif" font-size="10.7" fill="#4D4D4D" text-anchor="end">
<text x="61.60" y="899.50">0</text>
<text x="61.60" y="733.83">10</text>
<text x="61.60" y="568.16">20</text>
<text x="61.60" y="402.49">30</text>
<text x="61.60" y="236.82">40</text>
<text x="61.60" y="71.15">50</text>
</g>
<text x="344.0" y="977.4" font-family="'DejaVu Sans', Verdana, sans-serif" font-size="28.6" letter-spacing="0.5" textLength="74.56" lengthAdjust="spacingAndGlyphs" fill="#000000">Time</text>
<text transform="translate(25.4 611.8) rotate(-90)" font-family="'DejaVu Sans', Verdana, sans-serif" font-size="28.6" textLength="294.97" lengthAdjust="spacingAndGlyphs" fill="#000000">Relative Abundance</text>
</svg>
</body>
</html>
